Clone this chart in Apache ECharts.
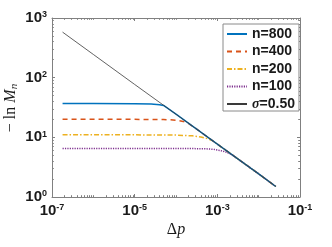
<!DOCTYPE html>
<html><head><meta charset="utf-8">
<script src="https://cdn.jsdelivr.net/npm/echarts@6/dist/echarts.min.js"></script>
<style>html,body{margin:0;padding:0;background:#fff}#c{width:332px;height:247px}</style>
</head><body><div id="c"></div>
<script>
const seriesNames = ['n=800', 'n=400', 'n=200', 'n=100', 'σ=0.50'];

const n800X = [1.8e-7, 1e-6, 1e-5, 2.5e-5, 4e-5, 5e-5, 1e-4, 1e-3, 1e-2, 2.6e-2];
const n800Y = [37, 37, 36.7, 36.2, 35.2, 34.2, 24.4, 7.7, 2.44, 1.5];

const n400X = [1.8e-7, 1e-6, 1e-5, 5e-5, 1e-4, 1.5e-4, 2e-4, 3e-4, 1e-3, 1e-2, 2.6e-2];
const n400Y = [20, 20, 20, 19.9, 19.4, 18.5, 17.1, 14.1, 7.7, 2.44, 1.5];

const n200X = [1.8e-7, 1e-6, 1e-5, 1e-4, 2.5e-4, 4e-4, 5.5e-4, 7.5e-4, 1e-3, 1e-2, 2.6e-2];
const n200Y = [11, 11, 11, 10.9, 10.6, 10.1, 9.6, 8.85, 7.7, 2.44, 1.5];

const n100X = [1.8e-7, 1e-6, 1e-5, 1e-4, 5e-4, 8e-4, 1.2e-3, 1.7e-3, 2.3e-3, 1e-2, 2.6e-2];
const n100Y = [6.5, 6.5, 6.5, 6.5, 6.45, 6.3, 6.0, 5.6, 5.05, 2.44, 1.5];

const sigmaX = [1.8e-7, 1e-6, 1e-5, 1e-4, 1e-3, 1e-2, 2.6e-2];
const sigmaY = [580, 245, 77, 24.4, 7.7, 2.44, 1.5];

const xTickLabels = [1e-7, 1e-5, 1e-3, 1e-1];
const yTickLabels = [1, 10, 100, 1000];

function pairs(xs, ys) { return xs.map((x, i) => [x, ys[i]]); }
function minorTicks(k0, k1, majors) {
  const out = [];
  for (let k = k0; k <= k1; k++) {
    for (let m = 1; m <= 9; m++) {
      const v = +(m * Math.pow(10, k)).toPrecision(6);
      if (!majors.some(t => Math.abs(t - v) / v < 1e-6)) out.push(v);
    }
  }
  return out;
}
const xMinor = minorTicks(-7, -2, xTickLabels);
const yMinor = minorTicks(0, 2, yTickLabels);

const axisColor = '#808080';
const labelRich = {
  b: { fontSize: 15, fontWeight: 'bold', fontFamily: 'Liberation Sans', color: '#1a1a1a' },
  s: { fontSize: 9, fontWeight: 'bold', fontFamily: 'Liberation Sans', color: '#1a1a1a', verticalAlign: 'top' }
};
function expLabel(v) {
  const e = Math.round(Math.log10(v));
  return '{b|10}{s|' + e + '}';
}
function axisSet(kind, pos, ticks, len, withLine, withLabels, labels) {
  return {
    type: 'log', logBase: 10, position: pos,
    min: kind === 'x' ? 1e-7 : 1, max: kind === 'x' ? 1e-1 : 1000,
    axisLine: { show: withLine, onZero: false, lineStyle: { color: axisColor, width: 1 } },
    axisTick: { show: true, inside: true, length: len, customValues: ticks, lineStyle: { color: axisColor, width: 1 } },
    axisLabel: withLabels ? { show: true, customValues: labels, formatter: expLabel, rich: labelRich, margin: kind === 'x' ? 6 : 5 } : { show: false },
    splitLine: { show: false },
    minorTick: { show: false }
  };
}

const chart = echarts.init(document.getElementById('c'), null, { renderer: 'canvas' });
const lineBase = { type: 'line', symbol: 'none', showSymbol: false, xAxisIndex: 0, yAxisIndex: 0, animation: false, clip: true };
chart.setOption({
  animation: false,
  backgroundColor: '#fff',
  grid: { left: 52, right: 32, top: 18, bottom: 50, containLabel: false },
  xAxis: [
    axisSet('x', 'bottom', xTickLabels, 3, true, true, xTickLabels),
    axisSet('x', 'bottom', xMinor, 1.8, false, false),
    axisSet('x', 'top', xTickLabels, 3, true, false),
    axisSet('x', 'top', xMinor, 1.8, false, false)
  ],
  yAxis: [
    axisSet('y', 'left', yTickLabels, 3, true, true, yTickLabels),
    axisSet('y', 'left', yMinor, 1.8, false, false),
    axisSet('y', 'right', yTickLabels, 3, true, false),
    axisSet('y', 'right', yMinor, 1.8, false, false)
  ],
  legend: {
    data: seriesNames,
    orient: 'vertical',
    left: 223, top: 24,
    padding: [3, 4, 0, 3],
    itemWidth: 20, itemHeight: 10, itemGap: 3.5,
    backgroundColor: '#fff',
    borderColor: '#8a8a8a', borderWidth: 1, borderRadius: 0,
    itemStyle: { opacity: 0, borderWidth: 0 },
    textStyle: { fontSize: 14, fontWeight: 'bold', fontFamily: 'Liberation Sans', color: '#1a1a1a', lineHeight: 14,
      rich: {
        i: { fontSize: 14, fontWeight: 'bold', fontStyle: 'italic', fontFamily: 'Liberation Serif', color: '#1a1a1a' },
        t: { fontSize: 14, fontWeight: 'bold', fontFamily: 'Liberation Sans', color: '#1a1a1a' }
      } },
    formatter: name => name === 'σ=0.50' ? '{i|σ}{t|=0.50}' : name
  },
  series: [
    Object.assign({}, lineBase, { name: seriesNames[0], data: pairs(n800X, n800Y), z: 5,
      itemStyle: { color: '#0072BD' }, lineStyle: { color: '#0072BD', width: 1.5, type: 'solid' } }),
    Object.assign({}, lineBase, { name: seriesNames[1], data: pairs(n400X, n400Y), z: 4,
      itemStyle: { color: '#D95319' }, lineStyle: { color: '#D95319', width: 1.5, type: [5, 4] } }),
    Object.assign({}, lineBase, { name: seriesNames[2], data: pairs(n200X, n200Y), z: 3,
      itemStyle: { color: '#EDB120' }, lineStyle: { color: '#EDB120', width: 1.5, type: [5, 2, 1.5, 2] } }),
    Object.assign({}, lineBase, { name: seriesNames[3], data: pairs(n100X, n100Y), z: 2,
      itemStyle: { color: '#7E2F8E' }, lineStyle: { color: '#7E2F8E', width: 1.5, type: [1.2, 1.2] } }),
    Object.assign({}, lineBase, { name: seriesNames[4], data: pairs(sigmaX, sigmaY), z: 6,
      itemStyle: { color: '#555' }, lineStyle: { color: '#3a3a3a', width: 0.8, type: 'solid' } })
  ],
  graphic: [
    { type: 'text', x: 11, y: 108, rotation: Math.PI / 2,
      style: { text: '{a|− ln }{m|M}{n|n}', align: 'center', verticalAlign: 'middle',
        rich: {
          a: { fontSize: 16, fontFamily: 'Liberation Serif', fill: '#1a1a1a' },
          m: { fontSize: 16, fontStyle: 'italic', fontFamily: 'Liberation Serif', fill: '#1a1a1a' },
          n: { fontSize: 11, fontStyle: 'italic', fontFamily: 'Liberation Serif', fill: '#1a1a1a', verticalAlign: 'bottom', padding: [6, 0, 0, 0] }
        } } },
    { type: 'text', x: 176, y: 230,
      style: { text: '{d|Δ}{p|p}', align: 'center', verticalAlign: 'middle',
        rich: {
          d: { fontSize: 16, fontFamily: 'Liberation Serif', fill: '#1a1a1a' },
          p: { fontSize: 16, fontStyle: 'italic', fontFamily: 'Liberation Serif', fill: '#1a1a1a' }
        } } }
  ]
});
</script></body></html>
